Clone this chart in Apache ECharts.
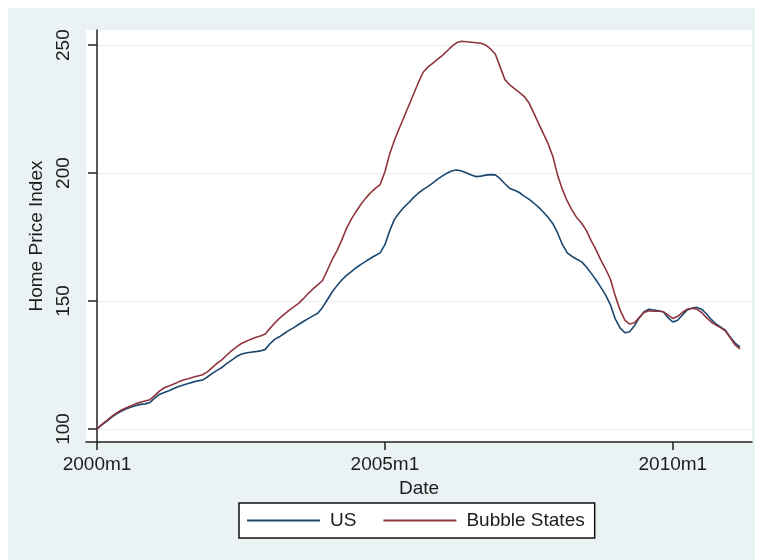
<!DOCTYPE html>
<html>
<head>
<meta charset="utf-8">
<script src="https://cdn.jsdelivr.net/npm/echarts@6/dist/echarts.min.js"></script>
<style>
  body { margin: 0; background: #fff; }
  #chart { position: absolute; left: 8px; top: 8px; width: 747px; height: 552px; }
</style>
</head>
<body>
<div id="chart"></div>
<script>
// monthly index values, 2000m1 .. 2011m3
const usValues = [
  100.0, 101.6, 103.0, 104.5, 105.8, 106.9, 107.8, 108.5, 109.1, 109.6, 109.8, 110.3,
  112.0, 113.5, 114.2, 114.9, 115.8, 116.6, 117.2, 117.8, 118.3, 118.8, 119.1, 120.3,
  121.7, 122.9, 124.0, 125.5, 126.8, 128.2, 129.2, 129.7, 130.0, 130.2, 130.5, 131.0,
  133.2, 135.0, 136.0, 137.3, 138.5, 139.6, 140.8, 142.0, 143.1, 144.2, 145.2, 147.5,
  150.5, 153.5, 156.0, 158.2, 160.0, 161.5, 163.0, 164.3, 165.5, 166.7, 167.8, 168.8,
  172.0, 177.5, 182.0, 184.5, 186.7, 188.5, 190.5, 192.2, 193.6, 194.8, 196.2, 197.6,
  198.9, 200.0, 200.9, 201.2, 200.8, 200.0, 199.2, 198.6, 198.8, 199.2, 199.4, 199.3,
  197.8, 195.8, 194.0, 193.3, 192.4, 191.0, 189.8, 188.3, 186.7, 184.8, 182.7, 180.2,
  176.5, 172.0, 168.8, 167.4, 166.3, 165.3, 163.3, 160.8, 158.2, 155.3, 152.3, 148.5,
  143.0, 139.5, 137.6, 138.0, 140.3, 143.5, 145.8, 146.8, 146.5, 146.2, 145.8, 143.5,
  141.8, 142.5, 144.5, 146.5, 147.2, 147.5, 146.8, 145.0, 142.8, 141.0, 139.8, 138.5,
  135.8, 133.5, 132.0
];
const bubbleValues = [
  100.0, 101.8, 103.3, 104.8, 106.2, 107.3, 108.2, 109.0, 109.8, 110.4, 110.9, 111.4,
  113.0, 114.8, 116.1, 116.8, 117.6, 118.4, 119.1, 119.6, 120.2, 120.7, 121.2, 122.3,
  124.0, 125.6, 127.0, 128.8, 130.5, 132.0, 133.3, 134.2, 135.0, 135.7, 136.3, 137.0,
  139.2, 141.3, 143.2, 144.8, 146.3, 147.7, 149.1, 150.9, 152.9, 154.7, 156.3, 158.0,
  162.0, 166.2, 169.6, 173.8, 178.4, 182.0, 185.0, 187.8, 190.2, 192.3, 194.0, 195.5,
  200.5, 207.5, 212.9, 217.5, 222.0, 226.5, 231.0, 235.5, 239.5, 241.5, 243.0, 244.5,
  246.0, 247.8, 249.6, 251.0, 251.5, 251.3, 251.1, 250.9, 250.7, 250.0, 248.5, 246.5,
  241.5, 236.5, 234.5, 233.0, 231.5, 230.0, 227.5, 223.5, 219.5, 215.5, 211.5, 206.5,
  199.0, 193.5, 189.0, 185.5, 182.5, 180.4, 177.5, 173.5, 170.0, 166.0, 162.5, 158.5,
  152.0, 146.5, 142.5, 141.0, 141.5, 143.5, 145.5, 146.2, 146.0, 146.0, 145.8, 144.5,
  143.2, 144.0, 145.5, 146.8, 147.2, 146.8, 145.5, 143.5, 141.8, 140.6, 139.5, 138.2,
  135.5, 132.8, 131.3
];

// month labels like 2000m1
const months = usValues.map((v, i) => (2000 + Math.floor(i / 12)) + 'm' + (i % 12 + 1));
const xTickMonths = [0, 60, 120];
const yTicks = [100, 150, 200, 250];
const seriesNames = ['US', 'Bubble States'];
const seriesColors = ['#1a476f', '#90353b'];

const font = "'Liberation Sans', Arial, sans-serif";
const textColor = '#1c1c1c';

let chart = echarts.init(document.getElementById('chart'));

let option = {
  backgroundColor: '#eaf2f3',
  animation: false,
  grid: {
    left: 78,
    right: 3,
    top: 22,
    bottom: 118,
    show: true,
    backgroundColor: '#ffffff',
    borderWidth: 0
  },
  xAxis: {
    type: 'value',
    min: -2.3,
    max: 136.5,
    name: 'Date',
    nameLocation: 'middle',
    nameGap: 29,
    nameTextStyle: { fontFamily: font, fontSize: 19, color: textColor },
    axisLine: { show: true, lineStyle: { color: '#222', width: 1.5 } },
    axisTick: { show: true, length: 8, customValues: xTickMonths, lineStyle: { color: '#222', width: 1.5 } },
    axisLabel: {
      customValues: xTickMonths,
      margin: 13,
      fontFamily: font,
      fontSize: 19,
      color: textColor,
      formatter: (v) => months[Math.round(v)]
    },
    splitLine: { show: false }
  },
  yAxis: {
    type: 'value',
    min: 94.9,
    max: 255.9,
    name: 'Home Price Index',
    nameLocation: 'middle',
    nameGap: 33,
    nameTextStyle: { fontFamily: font, fontSize: 19, color: textColor },
    axisLine: { show: true, lineStyle: { color: '#222', width: 1.5 } },
    axisTick: { show: true, length: 9, customValues: yTicks, lineStyle: { color: '#222', width: 1.5 } },
    axisLabel: {
      customValues: yTicks,
      rotate: 90,
      margin: 13,
      fontFamily: font,
      fontSize: 19,
      color: textColor
    },
    splitLine: { show: true, customValues: yTicks, lineStyle: { color: '#e6eff1', width: 1.2 } }
  },
  legend: {
    left: 231,
    top: 495,
    orient: 'horizontal',
    backgroundColor: '#ffffff',
    borderColor: '#111',
    borderWidth: 1.5,
    borderRadius: 0,
    padding: [8, 10, 8, 8],
    itemGap: 27,
    itemWidth: 73,
    itemHeight: 2,
    icon: 'rect',
    textStyle: { fontFamily: font, fontSize: 19, color: textColor, padding: [0, 0, 0, 5] },
    data: seriesNames
  },
  series: [usValues, bubbleValues].map((vals, k) => ({
    name: seriesNames[k],
    type: 'line',
    data: vals.map((v, i) => [i, v]),
    showSymbol: false,
    color: seriesColors[k],
    lineStyle: { width: 1.6, color: seriesColors[k] }
  }))
};

chart.setOption(option);
</script>
</body>
</html>
